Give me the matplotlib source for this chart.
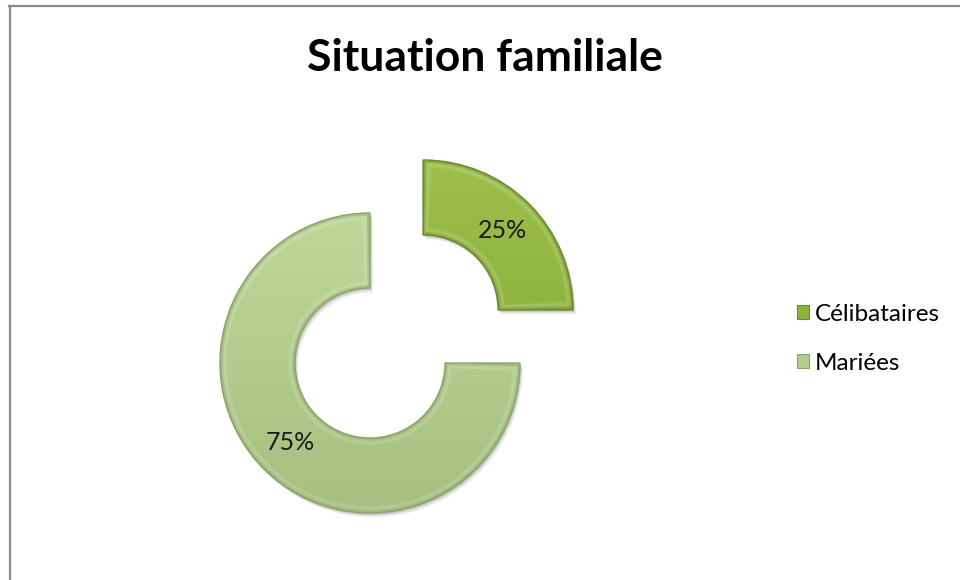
import numpy as np
import matplotlib
matplotlib.use("Agg")
import matplotlib.pyplot as plt
from matplotlib.patches import Wedge
from matplotlib.lines import Line2D
from matplotlib.colors import to_rgb

# Data
categories = ["Célibataires", "Mariées"]
shares = [25, 75]
title = "Situation familiale"

# Styling
top_colors = ["#9cc04a", "#bdd899"]
bottom_colors = ["#82a736", "#a5bf80"]
base_colors = ["#8db33f", "#b2cd8c"]
edge_colors = ["#6a8a2c", "#8ba567"]

W, H = 960, 580
fig = plt.figure(figsize=(W / 100, H / 100), dpi=100)
fig.patch.set_facecolor("white")

# Axes in units of the donut radius, centre of the ring at (370, 363) px
R_PX = 150.0
cx_px, cy_px = 370.0, 363.0
ax = fig.add_axes([0, 0, 1, 1])

ring = 0.5
wedges, texts, autotexts = ax.pie(
    shares,
    startangle=90,
    counterclock=False,
    radius=1.0,
    center=(0, 0),
    explode=[0.5, 0.0],
    colors=base_colors,
    autopct="%1.0f%%",
    pctdistance=0.75,
    wedgeprops=dict(width=ring, edgecolor="none", linewidth=0),
    textprops=dict(family="Lato", fontsize=18, color="#1a1a1a"),
)
for t in autotexts:
    t.set_zorder(10)

# Soft drop shadow beneath each segment
for w in wedges:
    c = np.array(w.center)
    for dx, dy, a in [(0.02, -0.03, 0.05), (0.015, -0.022, 0.06),
                      (0.01, -0.015, 0.07), (0.006, -0.01, 0.08)]:
        sh = Wedge(tuple(c + [dx, dy]), w.r, w.theta1, w.theta2, width=w.width,
                   facecolor="black", edgecolor="none", alpha=a, zorder=0.5)
        ax.add_patch(sh)
    w.set_zorder(1)

# Vertical gradient fill, soft bevel and outline for each segment
for i, w in enumerate(wedges):
    c = np.array(w.center)
    t0 = np.array(to_rgb(top_colors[i]))
    t1 = np.array(to_rgb(bottom_colors[i]))
    g = np.linspace(0, 1, 256)[:, None, None]
    img = t0 * (1 - g) + t1 * g
    img = np.repeat(img, 2, axis=1)
    im = ax.imshow(img, extent=(c[0] - 1, c[0] + 1, c[1] - 1, c[1] + 1),
                   origin="upper", zorder=2, interpolation="bilinear")
    im.set_clip_path(w)

    rmid = w.r - w.width / 2
    # bevel: darker rim fading into a faint light band just inside it
    for d, col, lw, a in [(0.008, edge_colors[i], 2.5, 0.45),
                          (0.025, "white", 3.0, 0.12),
                          (0.04, "white", 2.0, 0.08)]:
        dth = np.degrees(d / rmid)
        bv = Wedge(tuple(c), w.r - d, w.theta1 + dth, w.theta2 - dth, width=w.width - 2 * d,
                   facecolor="none", edgecolor=col, linewidth=lw, alpha=a, zorder=3)
        bv.set_clip_path(w)
        ax.add_patch(bv)
    ol = Wedge(tuple(c), w.r, w.theta1, w.theta2, width=w.width,
               facecolor="none", edgecolor=edge_colors[i], linewidth=1.0, zorder=4)
    ax.add_patch(ol)

ax.set_xlim(-cx_px / R_PX, (W - cx_px) / R_PX)
ax.set_ylim(-(H - cy_px) / R_PX, cy_px / R_PX)
ax.set_aspect("equal")
ax.axis("off")

# Title
fig.text(485 / W, 1 - 58 / H, title, ha="center", va="center",
         family="Lato", fontweight="bold", fontsize=32, color="black")

# Legend
leg = fig.legend(wedges, categories, loc="center left",
                 bbox_to_anchor=(797 / W, 1 - 339 / H),
                 frameon=False, prop=dict(family="Lato", size=17.5),
                 handlelength=0.5, handleheight=0.5, handletextpad=0.25,
                 labelspacing=1.15, borderpad=0, borderaxespad=0)
for h, ec in zip(leg.legend_handles, edge_colors):
    h.set_edgecolor(ec)
    h.set_linewidth(0.8)

# Chart frame (top and left edges)
fig.add_artist(Line2D([9 / W, 1.0], [1 - 5.5 / H, 1 - 5.5 / H], transform=fig.transFigure,
                      color="#8a8a8a", linewidth=1.6))
fig.add_artist(Line2D([10 / W, 10 / W], [0.0, 1 - 5.5 / H], transform=fig.transFigure,
                      color="#8a8a8a", linewidth=1.6))

fig.savefig("out.png", dpi=100, facecolor="white")
